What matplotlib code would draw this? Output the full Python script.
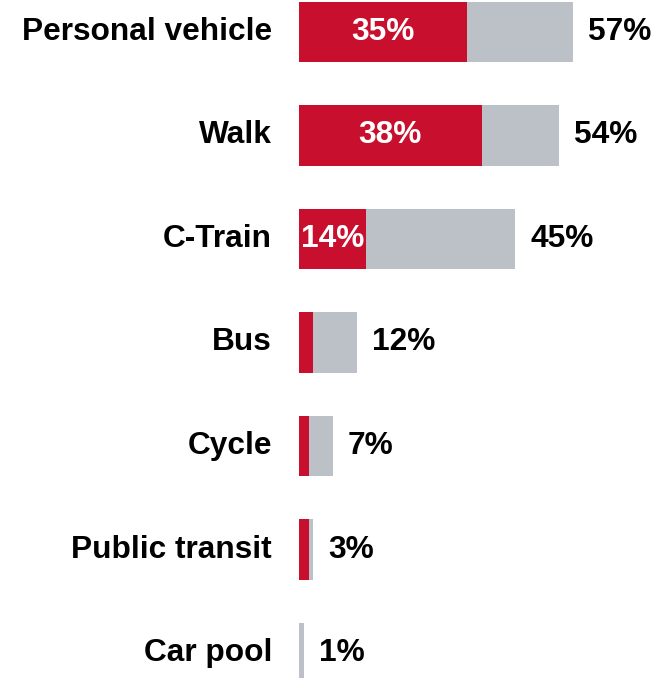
import matplotlib
matplotlib.use("Agg")
import matplotlib.pyplot as plt

# Данные с картинки (сверху вниз)
categories = ["Personal vehicle", "Walk", "C-Train", "Bus", "Cycle",
              "Public transit", "Car pool"]
total_pct = [57, 54, 45, 12, 7, 3, 1]
main_pct = [35, 38, 14, 3, 2, 2, 0]
main_labels = ["35%", "38%", "14%", "", "", "", ""]
total_labels = ["57%", "54%", "45%", "12%", "7%", "3%", "1%"]

RED = "#c8102e"
GREY = "#bbc1c6"
INK = "#000000"

plt.rcParams["font.family"] = ["Liberation Sans", "DejaVu Sans"]
FS = 22.8

fig = plt.figure(figsize=(6.69, 6.78), dpi=100)
ax = fig.add_axes([299 / 669, 0, 1 - 299 / 669, 1])

y = list(range(len(categories)))
ax.barh(y, total_pct, height=0.58, color=GREY, zorder=2)
ax.barh(y, main_pct, height=0.58, color=RED, zorder=3)

for i in y:
    ax.annotate(total_labels[i], xy=(total_pct[i], i), xytext=(11, 0),
                textcoords="offset points", ha="left", va="center",
                fontsize=FS, fontweight="bold", color=INK)
    if main_labels[i]:
        ax.text(main_pct[i] / 2, i, main_labels[i], ha="center", va="center",
                fontsize=FS, fontweight="bold", color="white", zorder=4)
    ax.annotate(categories[i], xy=(0, i), xytext=(-19.5, 0),
                textcoords="offset points", ha="right", va="center",
                fontsize=FS, fontweight="bold", color=INK,
                annotation_clip=False)

ax.set_xlim(0, 370 / 4.81)
ax.set_ylim((678 - 32) / 103.5, -32 / 103.5)
ax.axis("off")

fig.savefig("out.png", dpi=100)
plt.close(fig)
